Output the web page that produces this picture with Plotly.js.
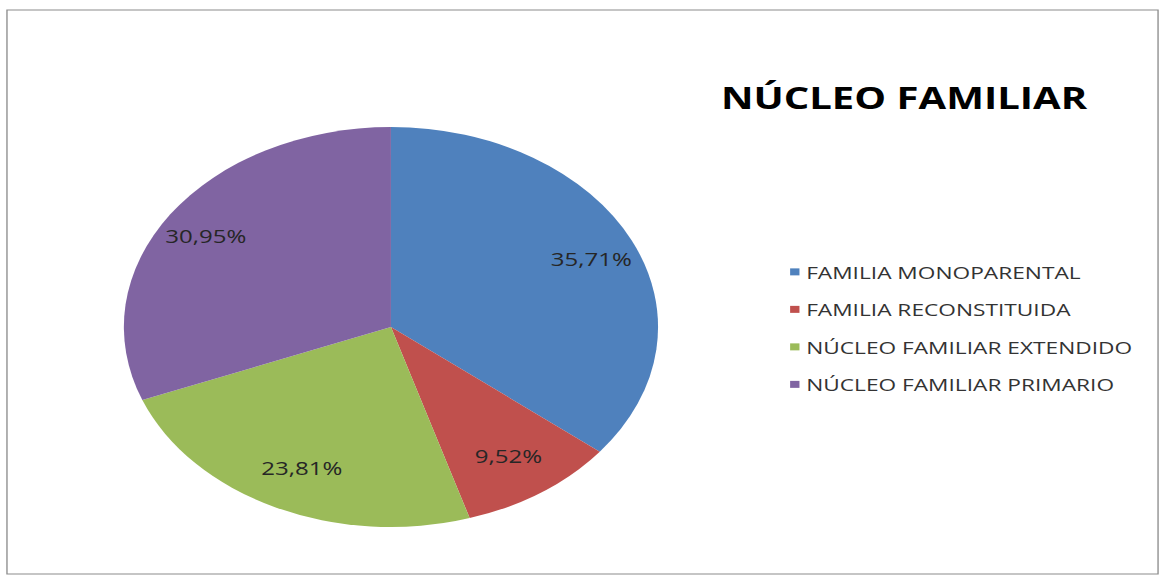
<!DOCTYPE html>
<html>
<head>
<meta charset="utf-8">
<script src="https://cdn.plot.ly/plotly-3.0.1.min.js"></script>
<style>
  html, body { margin: 0; padding: 0; background: #ffffff; overflow: hidden; }
  #chart { width: 870px; height: 578px; transform: scaleX(1.33563); transform-origin: 0 0; }
</style>
</head>
<body>
<div id="chart"></div>
<script>
// ---- data ----
var categories = ["FAMILIA MONOPARENTAL", "FAMILIA RECONSTITUIDA", "NÚCLEO FAMILIAR EXTENDIDO", "NÚCLEO FAMILIAR PRIMARIO"];
var counts = [15, 4, 10, 13];   // 35,71% / 9,52% / 23,81% / 30,95%
var sliceColors = ["#4F81BD", "#C0504D", "#9BBB59", "#8064A2"];
var chartTitle = "NÚCLEO FAMILIAR";

// ---- style settings ----
var ROWGAP = 37.5;       // legend row spacing
var TEXTX = 28.5;        // legend text offset
var LABEL_RADIUS = 0.81; // slice label distance as fraction of radius

var data = [{
  type: "pie",
  labels: categories,
  values: counts,
  sort: false,
  direction: "clockwise",
  rotation: 0,
  marker: { colors: sliceColors, line: { width: 0 } },
  texttemplate: "%{percent:.2%}",
  textposition: "inside",
  insidetextorientation: "horizontal",
  textfont: { family: "Open Sans", size: 18, color: "#262626" },
  domain: { x: [0.1066, 0.5663], y: [0.0882, 0.7803] },
  hoverinfo: "none"
}];

var layout = {
  width: 870,
  height: 578,
  margin: { l: 0, r: 0, t: 0, b: 0 },
  paper_bgcolor: "#ffffff",
  separators: ",.",
  showlegend: true,
  title: {
    text: chartTitle,
    font: { family: "Open Sans", size: 30, color: "#000000", weight: "bold" },
    x: 0.778, xanchor: "center",
    y: 0.8287, yanchor: "middle"
  },
  legend: {
    x: 0.661, xanchor: "left",
    y: 0.560, yanchor: "top",
    bgcolor: "rgba(0,0,0,0)",
    font: { family: "Open Sans", size: 17, color: "#333333" },
    traceorder: "normal"
  },
  shapes: [{
    type: "rect", xref: "paper", yref: "paper",
    x0: 0.006, x1: 0.9966, y0: 0.007, y1: 0.9827,
    line: { color: "#8c8c8c", width: 1 },
    fillcolor: "rgba(0,0,0,0)"
  }]
};

var gd = document.getElementById("chart");
Plotly.newPlot(gd, data, layout, { staticPlot: true, displayModeBar: false }).then(function () {
  var re = /translate\(\s*([-\d.e]+)[ ,]+([-\d.e]+)\s*\)/;

  // legend spacing / symbol size
  var items = gd.querySelectorAll(".legend .traces");
  var base = null;
  items.forEach(function (el, i) {
    var m = re.exec(el.getAttribute("transform") || "");
    if (!m) return;
    var x = parseFloat(m[1]), y = parseFloat(m[2]);
    if (base === null) base = y;
    el.setAttribute("transform", "translate(" + x + "," + (base + i * ROWGAP) + ")");
    el.querySelectorAll("path.legendpie").forEach(function (p) {
      p.setAttribute("d", "M3.5,3.5V-3.5H-3.5V3.5Z");
    });
    var t = el.querySelector("text.legendtext");
    if (t) {
      t.setAttribute("x", TEXTX);
      t.querySelectorAll("tspan").forEach(function (s) { if (s.hasAttribute("x")) s.setAttribute("x", TEXTX); });
    }
  });
  gd.querySelectorAll(".legend [clip-path]").forEach(function (e) { e.removeAttribute("clip-path"); });

  // push slice labels outward along their own direction
  var cd0 = gd.calcdata[0][0];
  var cx = cd0.cx, cy = cd0.cy, r = cd0.r;
  gd.querySelectorAll(".pielayer g.slicetext text").forEach(function (t) {
    var tr = t.getAttribute("transform") || "";
    var m = re.exec(tr);
    if (!m) return;
    var x = parseFloat(m[1]), y = parseFloat(m[2]);
    var dx = x - cx, dy = y - cy, d = Math.sqrt(dx * dx + dy * dy) || 1;
    var nx = cx + dx / d * r * LABEL_RADIUS, ny = cy + dy / d * r * LABEL_RADIUS;
    t.setAttribute("transform", tr.replace(re, "translate(" + nx + "," + ny + ")"));
  });
});
</script>
</body>
</html>
